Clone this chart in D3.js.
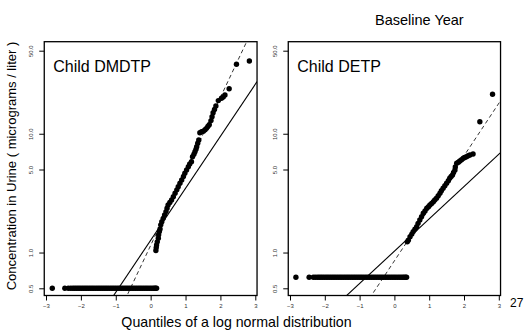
<!DOCTYPE html>
<html><head><meta charset="utf-8">
<script src="https://cdn.jsdelivr.net/npm/d3@7"></script>
<style>body{margin:0;background:#fff} svg{display:block}</style>
</head><body><div id="chart"></div>
<script>
const xTicks = [-3, -2, -1, 0, 1, 2, 3];
const yTicks = [0.5, 1, 5, 10, 50];
const yTickLabels = ["0.5", "1.0", "5.0", "10.0", "50.0"];
const panelTitles = ["Child DMDTP", "Child DETP"];

// Child DMDTP: censored values (all at 0.5)
const dmdtpLowQ = [-2.82, -2.46, -2.36, -2.29, -2.23, -2.18, -2.13, -2.08, -2.03, -1.98, -1.93, -1.88, -1.83, -1.78, -1.73, -1.68, -1.63, -1.58, -1.53, -1.48, -1.43, -1.38, -1.33, -1.28, -1.23, -1.18, -1.13, -1.08, -1.03, -0.98, -0.93, -0.88, -0.83, -0.78, -0.73, -0.68, -0.63, -0.58, -0.53, -0.48, -0.43, -0.38, -0.33, -0.28, -0.23, -0.18, -0.13, -0.08, -0.03, 0.02, 0.07, 0.11, 0.14, 0.17];
const dmdtpLowValue = 0.5;
const dmdtpQ = [0.15, 0.16, 0.17, 0.19, 0.22, 0.23, 0.25, 0.27, 0.29, 0.32, 0.36, 0.40, 0.44, 0.47, 0.50, 0.55, 0.60, 0.65, 0.70, 0.75, 0.79, 0.84, 0.89, 0.94, 0.98, 1.03, 1.08, 1.12, 1.17, 1.20, 1.24, 1.27, 1.30, 1.32, 1.35, 1.38, 1.41, 1.46, 1.51, 1.56, 1.60, 1.64, 1.68, 1.73, 1.76, 1.79, 1.83, 1.87, 1.94, 2.03, 2.08, 2.13, 2.25, 2.46, 2.83];
const dmdtpC = [1.04, 1.10, 1.16, 1.23, 1.32, 1.41, 1.50, 1.58, 1.71, 1.82, 1.94, 2.07, 2.21, 2.36, 2.51, 2.64, 2.77, 2.95, 3.16, 3.37, 3.58, 3.83, 4.08, 4.36, 4.65, 4.95, 5.28, 5.56, 5.82, 6.41, 6.73, 7.06, 7.41, 7.78, 8.32, 8.85, 10.2, 10.4, 10.5, 10.8, 11.1, 11.5, 11.9, 12.9, 13.9, 15.0, 16.0, 17.1, 19.0, 19.9, 20.4, 21.2, 23.9, 38.5, 40.9];
// reference lines: [log10 intercept, log10 slope]
const dmdtpSolid = [0.103, 0.438];
const dmdtpDashed = [0.060, 0.623];

// Child DETP: censored values (all at 0.62)
const detpLowQ = [-2.83, -2.45, -2.33, -2.27, -2.21, -2.16, -2.11, -2.06, -2.01, -1.96, -1.91, -1.86, -1.81, -1.76, -1.71, -1.66, -1.61, -1.56, -1.51, -1.46, -1.41, -1.36, -1.31, -1.26, -1.21, -1.16, -1.11, -1.06, -1.01, -0.96, -0.91, -0.86, -0.81, -0.76, -0.71, -0.66, -0.61, -0.56, -0.51, -0.46, -0.41, -0.36, -0.31, -0.26, -0.21, -0.16, -0.11, -0.06, -0.01, 0.04, 0.09, 0.14, 0.19, 0.24, 0.28, 0.32, 0.35];
const detpLowValue = 0.62;
const detpQ = [0.37, 0.40, 0.45, 0.50, 0.54, 0.59, 0.64, 0.68, 0.73, 0.78, 0.83, 0.88, 0.93, 0.98, 1.02, 1.07, 1.12, 1.16, 1.21, 1.26, 1.31, 1.35, 1.40, 1.45, 1.50, 1.55, 1.59, 1.63, 1.67, 1.70, 1.74, 1.75, 1.79, 1.84, 1.88, 1.93, 1.98, 2.02, 2.07, 2.12, 2.17, 2.26, 2.455, 2.82];
const detpC = [1.23, 1.27, 1.36, 1.43, 1.50, 1.57, 1.65, 1.76, 1.88, 2.00, 2.14, 2.24, 2.36, 2.43, 2.51, 2.59, 2.68, 2.77, 2.86, 3.01, 3.16, 3.31, 3.48, 3.65, 3.83, 4.02, 4.22, 4.36, 4.50, 4.72, 4.95, 5.25, 5.64, 5.75, 5.90, 6.05, 6.21, 6.31, 6.41, 6.52, 6.62, 6.75, 12.6, 21.5];
const detpSolid = [0.0115, 0.272];
const detpDashed = [-0.070, 0.442];

const panels = [
  { title: panelTitles[0], lowQ: dmdtpLowQ, lowV: dmdtpLowValue, q: dmdtpQ, c: dmdtpC, solid: dmdtpSolid, dashed: dmdtpDashed, x0: 46, x1: 255.3 },
  { title: panelTitles[1], lowQ: detpLowQ, lowV: detpLowValue, q: detpQ, c: detpC, solid: detpSolid, dashed: detpDashed, x0: 290, x1: 498.8 }
];

const W = 528, H = 333;
const FONT = "'Liberation Sans', Arial, Helvetica, sans-serif";
const svg = d3.select("#chart").append("svg").attr("width", W).attr("height", H)
  .style("font-family", FONT);
svg.append("rect").attr("width", W).attr("height", H).attr("fill", "#fff");

const y = d3.scaleLog().domain([0.5, 50]).range([288.3, 50.7]);
const frameTop = 41.7, frameBottom = 295.5;

panels.forEach((p, i) => {
  const x = d3.scaleLinear().domain([-3, 3]).range([p.x0, p.x1]);
  const fx0 = x(-3.05), fx1 = x(3.05);
  const g = svg.append("g");

  const clipId = "clip" + i;
  svg.append("clipPath").attr("id", clipId).append("rect")
    .attr("x", fx0).attr("y", frameTop).attr("width", fx1 - fx0).attr("height", frameBottom - frameTop);

  // reference lines
  const lineGen = d3.line().x(d => x(d[0])).y(d => y(d[1]));
  const mk = (ab) => [-3.05, 3.05].map(q => [q, Math.pow(10, ab[0] + ab[1] * q)]);
  const lg = g.append("g").attr("clip-path", `url(#${clipId})`);
  lg.append("path").attr("d", lineGen(mk(p.solid))).attr("fill", "none")
    .attr("stroke", "#000").attr("stroke-width", 1.1);
  lg.append("path").attr("d", lineGen(mk(p.dashed))).attr("fill", "none")
    .attr("stroke", "#000").attr("stroke-width", 0.8).attr("stroke-dasharray", "4,3");

  // points
  const pts = p.lowQ.map(q => [q, p.lowV]).concat(p.q.map((q, k) => [q, p.c[k]]));
  lg.selectAll("circle.pt").data(pts).join("circle").attr("class", "pt")
    .attr("cx", d => x(d[0])).attr("cy", d => y(d[1])).attr("r", 2.7).attr("fill", "#000");

  // frame
  g.append("rect").attr("x", fx0).attr("y", frameTop).attr("width", fx1 - fx0)
    .attr("height", frameBottom - frameTop).attr("fill", "none").attr("stroke", "#000").attr("stroke-width", 1.3);

  // x axis
  const xa = g.append("g").attr("transform", `translate(0,${frameBottom})`)
    .call(d3.axisBottom(x).tickValues(xTicks).tickSize(5).tickPadding(3).tickFormat(d3.format("d")));
  xa.select(".domain").remove();
  xa.selectAll("line").attr("stroke", "#000");
  xa.selectAll("text").attr("font-size", 6).attr("fill", "#333").attr("font-family", FONT);

  // y axis
  const ya = g.append("g").attr("transform", `translate(${fx0},0)`)
    .call(d3.axisLeft(y).tickValues(yTicks).tickSize(5).tickFormat((d, k) => yTickLabels[k]));
  ya.select(".domain").remove();
  ya.selectAll("line").attr("stroke", "#000");
  ya.selectAll("text").attr("font-size", 6).attr("fill", "#333").attr("font-family", FONT)
    .attr("x", null).attr("dy", null).attr("text-anchor", "middle")
    .attr("transform", "translate(-13,0) rotate(-90)").attr("dy", "0.35em");

  // title
  g.append("text").attr("x", fx0 + 9).attr("y", 71.5).attr("font-size", 16).attr("fill", "#000").text(p.title);
});

svg.append("text").attr("x", 375).attr("y", 25).attr("font-size", 14.5).attr("fill", "#000").text("Baseline Year");
svg.append("text").attr("transform", "translate(16,166) rotate(-90)").attr("text-anchor", "middle")
  .attr("font-size", 13).attr("fill", "#000").text("Concentration in Urine ( micrograms / liter )");
svg.append("text").attr("x", 236.5).attr("y", 327).attr("text-anchor", "middle")
  .attr("font-size", 14.2).attr("fill", "#000").text("Quantiles of a log normal distribution");
svg.append("text").attr("x", 510).attr("y", 307).attr("font-size", 12).attr("fill", "#000").text("27");
</script></body></html>
